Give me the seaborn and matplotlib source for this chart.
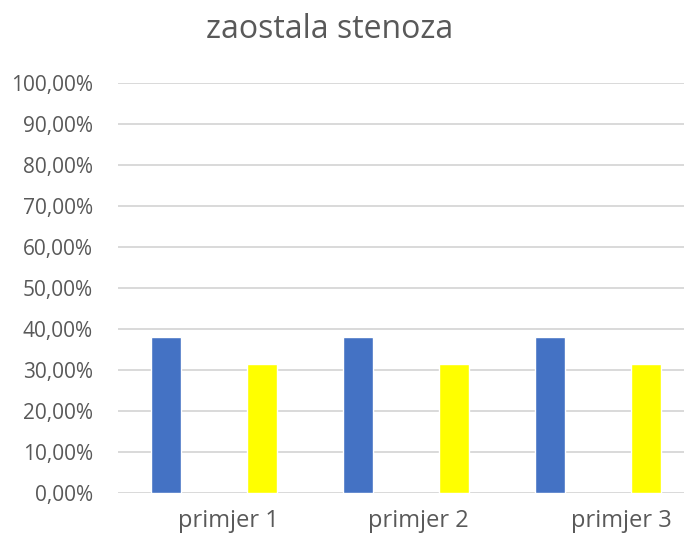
import matplotlib
matplotlib.use("Agg")
import matplotlib.pyplot as plt
import matplotlib.transforms as mtransforms
from matplotlib.ticker import FuncFormatter, MultipleLocator
import pandas as pd
import seaborn as sns

categories = ["primjer 1", "primjer 2", "primjer 3"]
series_names = ["serija 1", "serija 2"]
series_1 = [0.379, 0.379, 0.379]
series_2 = [0.314, 0.314, 0.314]
palette = ["#4472C4", "#FFFF00"]

df = pd.DataFrame({
    "kategorija": categories * 2,
    "serija": [series_names[0]] * len(categories) + [series_names[1]] * len(categories),
    "vrijednost": series_1 + series_2,
})

sns.set_theme(style="white")
plt.rcParams["font.family"] = ["Open Sans", "DejaVu Sans"]

fig = plt.figure(figsize=(6.84, 5.34), dpi=100)
ax = fig.add_axes([118 / 684, 41.3 / 534, 576 / 684, 409.7 / 534])

sns.barplot(data=df, x="kategorija", y="vrijednost", hue="serija",
            order=categories, hue_order=series_names, palette=palette,
            width=1.0, dodge=True, saturation=1, legend=False, ax=ax)

# narrow bars, keeping their dodged centres
bar_w = 0.155
for p in ax.patches:
    c = p.get_x() + p.get_width() / 2
    p.set_width(bar_w)
    p.set_x(c - bar_w / 2)

ax.set_xlim(-0.5, 2.5)
ax.set_ylim(0, 1.0)
ax.yaxis.set_major_locator(MultipleLocator(0.1))
ax.yaxis.set_major_formatter(
    FuncFormatter(lambda v, _: f"{v * 100:.2f}%".replace(".", ",")))
ax.grid(axis="y", color="#d9d9d9", linewidth=1.4)
ax.set_axisbelow(True)
for s in ax.spines.values():
    s.set_visible(False)

ax.tick_params(axis="y", length=0, pad=18, labelsize=15, labelcolor="#595959")
ax.tick_params(axis="x", length=0, pad=12, labelsize=17, labelcolor="#595959")
ax.set_xlabel("")
ax.set_ylabel("")

# category labels sit a little to the right of the category centres
label_shift_px = [14, 12, 23]
for lbl, dx in zip(ax.get_xticklabels(), label_shift_px):
    offset = mtransforms.ScaledTranslation(dx / 100, 0, fig.dpi_scale_trans)
    lbl.set_transform(lbl.get_transform() + offset)

fig.text(330 / 684, 1 - 30 / 534, "zaostala stenoza", ha="center", va="center",
         fontsize=23, color="#595959")

fig.savefig("out.png", dpi=100)
